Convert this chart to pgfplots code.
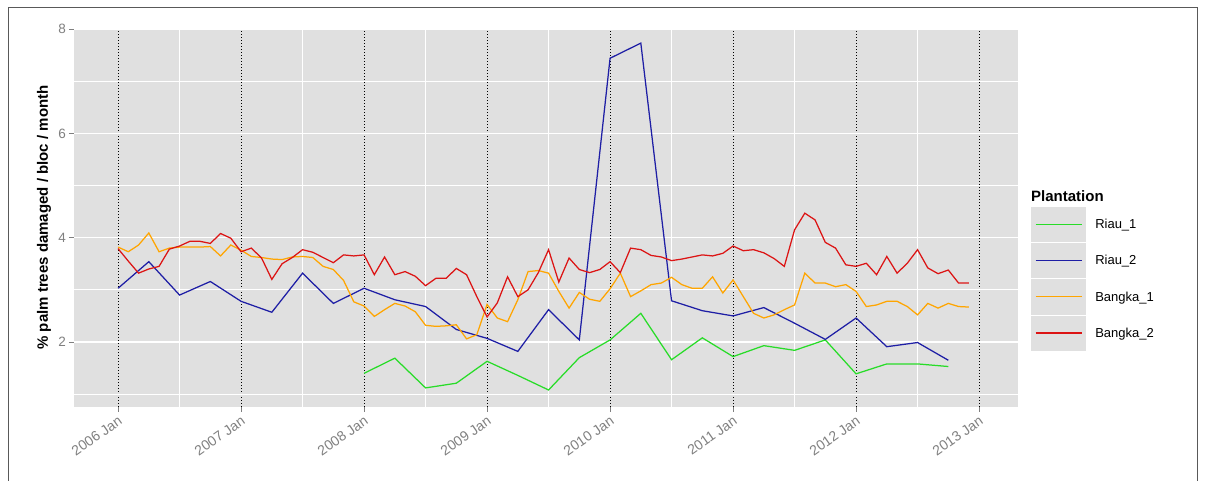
\documentclass[border=0pt]{standalone}
\usepackage{pgfplots}
\usepackage{pgfplotstable}
\pgfplotsset{compat=1.18}
\usepackage{fontspec}
\setmainfont{Liberation Sans}
\definecolor{panelgrey}{HTML}{E0E0E0}
\definecolor{ticktext}{HTML}{7F7F7F}
\definecolor{riauone}{RGB}{40,220,40}
\definecolor{riautwo}{RGB}{30,30,165}
\definecolor{bangkaone}{RGB}{255,165,0}
\definecolor{bangkatwo}{RGB}{220,20,20}

\pgfplotstableread{
m v
24 1.40
27 1.69
30 1.12
33 1.21
36 1.63
39 1.36
42 1.08
45 1.70
48 2.04
51 2.55
54 1.66
57 2.08
60 1.72
63 1.93
66 1.84
69 2.04
72 1.39
75 1.58
78 1.58
81 1.53
}\riauone

\pgfplotstableread{
m v
0 3.03
3 3.54
6 2.90
9 3.16
12 2.78
15 2.57
18 3.32
21 2.74
24 3.03
27 2.81
30 2.68
33 2.24
36 2.07
39 1.82
42 2.62
45 2.04
48 7.44
51 7.73
54 2.79
57 2.60
60 2.50
63 2.66
66 2.36
69 2.05
72 2.46
75 1.91
78 1.99
81 1.65
}\riautwo

\pgfplotstableread{
m v
0 3.82
1 3.73
2 3.86
3 4.09
4 3.73
5 3.80
6 3.82
7 3.82
8 3.82
9 3.83
10 3.65
11 3.86
12 3.76
13 3.64
14 3.62
15 3.59
16 3.58
17 3.63
18 3.64
19 3.62
20 3.45
21 3.39
22 3.18
23 2.77
24 2.69
25 2.49
26 2.62
27 2.74
28 2.69
29 2.58
30 2.32
31 2.30
32 2.31
33 2.33
34 2.06
35 2.14
36 2.72
37 2.46
38 2.39
39 2.81
40 3.35
41 3.37
42 3.32
43 2.97
44 2.65
45 2.95
46 2.82
47 2.78
48 3.02
49 3.32
50 2.87
51 2.98
52 3.10
53 3.13
54 3.24
55 3.10
56 3.03
57 3.03
58 3.25
59 2.94
60 3.19
61 2.87
62 2.55
63 2.46
64 2.52
65 2.62
66 2.71
67 3.32
68 3.13
69 3.13
70 3.06
71 3.10
72 2.97
73 2.68
74 2.71
75 2.78
76 2.78
77 2.68
78 2.52
79 2.74
80 2.65
81 2.74
82 2.68
83 2.67
}\bangkaone

\pgfplotstableread{
m v
0 3.79
1 3.55
2 3.32
3 3.40
4 3.45
5 3.78
6 3.84
7 3.93
8 3.93
9 3.89
10 4.08
11 3.99
12 3.73
13 3.80
14 3.61
15 3.20
16 3.50
17 3.62
18 3.77
19 3.72
20 3.62
21 3.52
22 3.67
23 3.65
24 3.67
25 3.29
26 3.63
27 3.29
28 3.35
29 3.26
30 3.08
31 3.22
32 3.22
33 3.41
34 3.29
35 2.87
36 2.48
37 2.75
38 3.25
39 2.87
40 3.00
41 3.33
42 3.77
43 3.15
44 3.61
45 3.39
46 3.33
47 3.39
48 3.54
49 3.33
50 3.80
51 3.77
52 3.66
53 3.63
54 3.56
55 3.59
56 3.63
57 3.67
58 3.65
59 3.70
60 3.84
61 3.75
62 3.77
63 3.71
64 3.60
65 3.45
66 4.15
67 4.47
68 4.34
69 3.91
70 3.80
71 3.48
72 3.45
73 3.51
74 3.29
75 3.64
76 3.32
77 3.51
78 3.77
79 3.42
80 3.31
81 3.38
82 3.13
83 3.13
}\bangkatwo

\begin{document}
\begin{tikzpicture}
\useasboundingbox (0,0) rectangle (1205pt,481pt);
\draw[gray!70!black, line width=0.8pt] (8pt,-2pt) -- (8pt,474pt) -- (1197pt,474pt) -- (1197pt,-2pt);
\begin{axis}[
  at={(74pt,74pt)}, anchor=south west,
  width=944pt, height=379pt, scale only axis,
  xmin=-4.3, xmax=87.8, ymin=0.754, ymax=8.02,
  axis background/.style={fill=panelgrey},
  axis line style={draw=none},
  xtick pos=lower, ytick pos=left,
  xtick={0,12,24,36,48,60,72,84},
  xticklabels={2006 Jan,2007 Jan,2008 Jan,2009 Jan,2010 Jan,2011 Jan,2012 Jan,2013 Jan},
  minor xtick={6,18,30,42,54,66,78},
  ytick={2,4,6,8},
  yticklabels={2,4,6,8},
  minor ytick={1,3,5,7},
  grid=both,
  major x grid style={black, line width=1pt, dash pattern=on 1pt off 2pt},
  minor x grid style={white, line width=0.7pt},
  major y grid style={white, line width=1.4pt},
  minor y grid style={white, line width=0.7pt},
  tick align=outside, major tick length=5pt, minor tick length=0pt,
  tick style={ticktext, line width=0.8pt},
  xticklabel style={rotate=35, anchor=north east, font=\fontsize{14}{16}\selectfont, text=ticktext, inner sep=2pt},
  yticklabel style={font=\fontsize{13.5}{15}\selectfont, text=ticktext, inner sep=3pt},
  ylabel={\% palm trees damaged / bloc / month},
  ylabel style={font=\bfseries\fontsize{15}{18}\selectfont, at={(axis description cs:-0.0318,0.5)}, anchor=center},
  legend image code/.code={
    \fill[panelgrey] (0pt,-17pt) rectangle (54pt,17pt);
    \draw[#1, line width=1.3pt] (4pt,0.4pt) -- (50pt,0.4pt);
  },
  legend style={at={(axis description cs:1.01377,0.5277)}, anchor=north west, draw=none, fill=none,
    inner sep=0pt, outer sep=0pt, row sep=1pt, column sep=9pt,
    font=\fontsize{13}{15}\selectfont, nodes={inner sep=0pt, anchor=west}},
  legend cell align=left,
]
\addplot[draw=riauone, line width=1.25pt] table[x=m, y=v] {\riauone};
\addlegendentry{Riau\_1}
\addplot[draw=riautwo, line width=1.25pt] table[x=m, y=v] {\riautwo};
\addlegendentry{Riau\_2}
\addplot[draw=bangkaone, line width=1.25pt] table[x=m, y=v] {\bangkaone};
\addlegendentry{Bangka\_1}
\addplot[draw=bangkatwo, line width=1.25pt] table[x=m, y=v] {\bangkatwo};
\addlegendentry{Bangka\_2}
\end{axis}
\node[anchor=west, inner sep=0pt, font=\bfseries\fontsize{15}{18}\selectfont] at (1031pt,285pt) {Plantation};
\end{tikzpicture}
\end{document}
